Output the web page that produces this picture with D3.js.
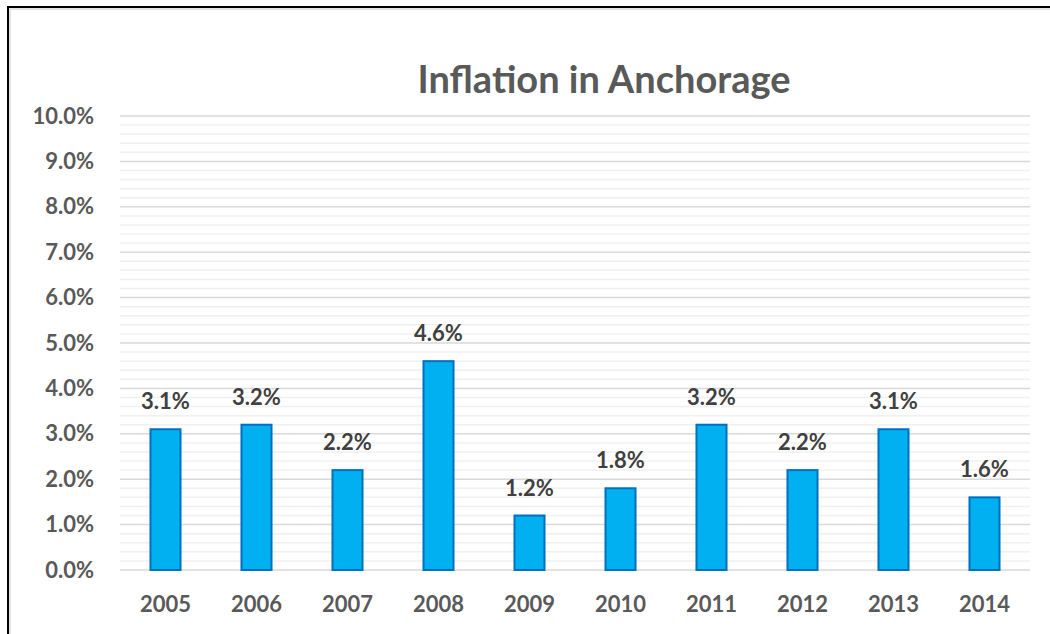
<!DOCTYPE html>
<html><head><meta charset="utf-8">
<script src="https://cdn.jsdelivr.net/npm/d3@7"></script>
<style>body{margin:0;background:#fff}svg{display:block}</style>
</head><body>
<svg id="c" width="1050" height="634"></svg>
<script>
const categories = ["2005","2006","2007","2008","2009","2010","2011","2012","2013","2014"];
const values = [3.1,3.2,2.2,4.6,1.2,1.8,3.2,2.2,3.1,1.6];
const yTicks = [0,1,2,3,4,5,6,7,8,9,10];
const minorTicks = d3.range(0, 10.01, 0.2).map(v => +v.toFixed(1));
const title = "Inflation in Anchorage";

const svg = d3.select("#c");
const font = "Lato, 'Open Sans', sans-serif";
const L = 120, R = 1030, T = 116, B = 570;

// chart border
svg.append("rect").attr("x",10).attr("y",9).attr("width",1200).attr("height",800)
  .attr("fill","none").attr("stroke","#e3e3e3").attr("stroke-width",2);
svg.append("rect").attr("x",8).attr("y",7).attr("width",1200).attr("height",800)
  .attr("fill","none").attr("stroke","#000").attr("stroke-width",2);

const x = d3.scaleBand().domain(categories).range([L,R]).paddingInner(0.67).paddingOuter(0.335);
const y = d3.scaleLinear().domain([0,10]).range([B,T]);

// minor gridlines
svg.append("g").selectAll("line").data(minorTicks.filter(v => Math.abs(v - Math.round(v)) > 1e-6))
  .join("line").attr("x1",L).attr("x2",R).attr("y1",d=>y(d)).attr("y2",d=>y(d))
  .attr("stroke","#f0f0f0").attr("stroke-width",1.5);
// major gridlines
svg.append("g").selectAll("line").data(yTicks)
  .join("line").attr("x1",L).attr("x2",R).attr("y1",d=>y(d)).attr("y2",d=>y(d))
  .attr("stroke","#d9d9d9").attr("stroke-width",1.5);

// y axis labels
const yAxis = d3.axisLeft(y).tickValues(yTicks).tickFormat(d => d.toFixed(1)+"%").tickSize(0).tickPadding(26);
const ya = svg.append("g").attr("transform",`translate(${L},0)`).call(yAxis);
ya.select(".domain").remove();
ya.selectAll("text").attr("font-family",font).attr("font-weight","bold").attr("font-size",22).attr("fill","#595959");

// x axis labels
const xAxis = d3.axisBottom(x).tickSize(0).tickPadding(26);
const xa = svg.append("g").attr("transform",`translate(0,${B})`).call(xAxis);
xa.select(".domain").remove();
xa.selectAll("text").attr("font-family",font).attr("font-weight","bold").attr("font-size",22).attr("fill","#595959");

// bars
svg.append("g").selectAll("rect").data(values).join("rect")
  .attr("x",(d,i)=>x(categories[i])).attr("width",x.bandwidth())
  .attr("y",d=>y(d)).attr("height",d=>B-y(d))
  .attr("fill","#00b0f0").attr("stroke","#0070c0").attr("stroke-width",2);

// data labels
svg.append("g").selectAll("text").data(values).join("text")
  .attr("x",(d,i)=>x(categories[i])+x.bandwidth()/2).attr("y",d=>y(d)-20)
  .attr("text-anchor","middle").attr("font-family",font).attr("font-weight","bold")
  .attr("font-size",22).attr("fill","#404040").text(d=>d.toFixed(1)+"%");

// title
svg.append("text").attr("x",604).attr("y",93).attr("text-anchor","middle")
  .attr("font-family",font).attr("font-weight","bold").attr("font-size",38)
  .attr("fill","#595959").text(title);
</script>
</body></html>
